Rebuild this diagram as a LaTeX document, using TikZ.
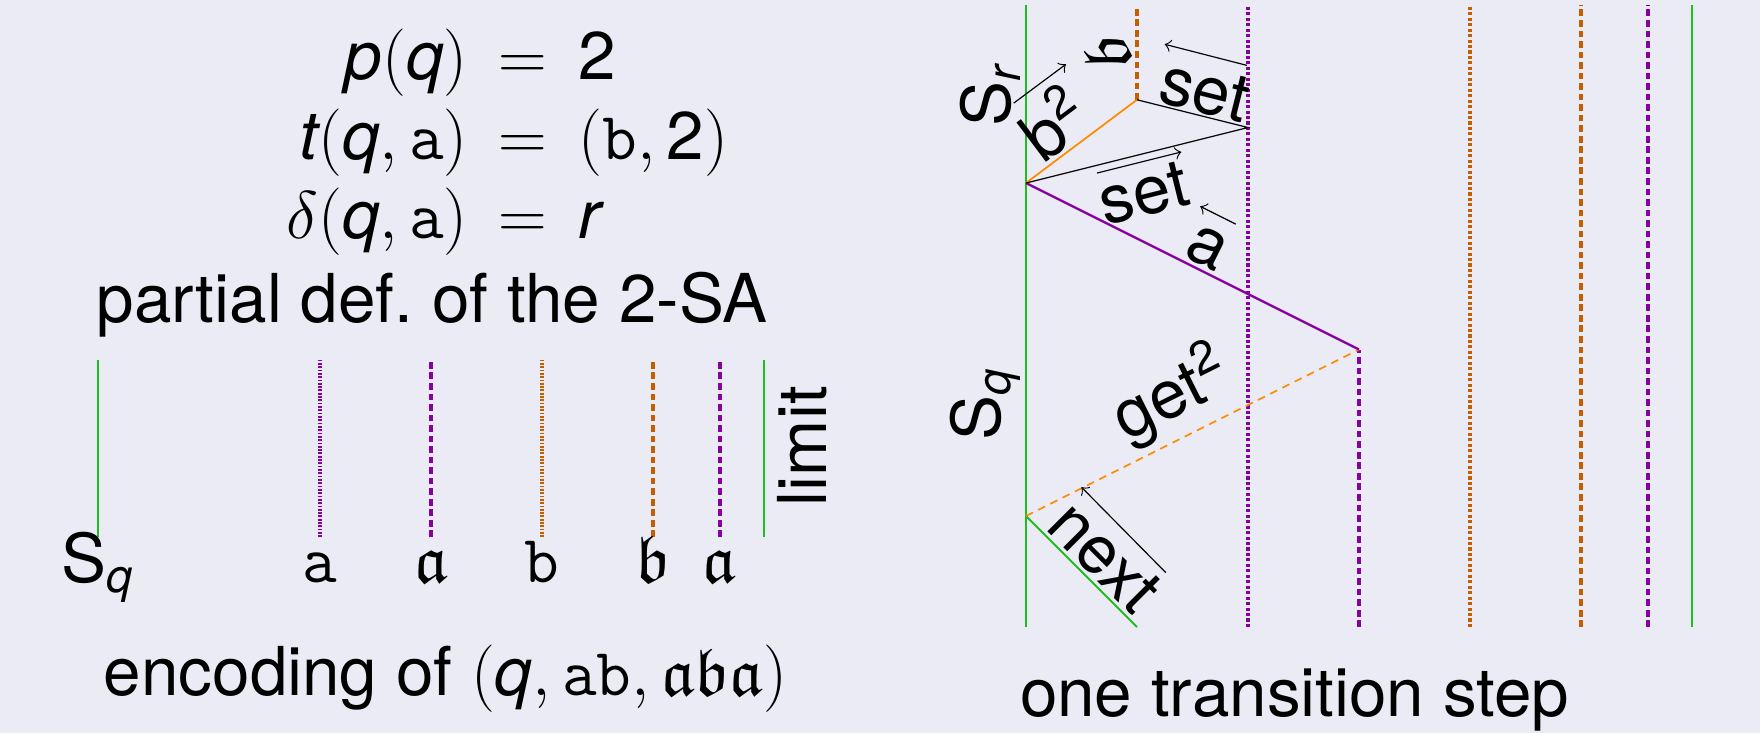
\documentclass[tikz,border=0pt]{standalone}
\usepackage{amsmath,amssymb}
\usepackage{fontspec}
\setmainfont{TeX Gyre Heros}
\usepackage{tikz}
\definecolor{bg}{RGB}{235,235,246}
\definecolor{sgreen}{RGB}{30,190,30}
\definecolor{spurple}{RGB}{135,0,160}
\definecolor{sbrown}{RGB}{195,95,0}
\definecolor{sorange}{RGB}{255,140,0}
\newcommand{\mv}[1]{\textit{#1}}
\newcommand{\fa}{\mathfrak{a}}
\newcommand{\fb}{\mathfrak{b}}

\begin{document}
\begin{tikzpicture}[font=\fontsize{17.28}{20.7}\selectfont,
    gline/.style={sgreen, line width=.45pt},
    dotpat/.style={dash pattern=on .8pt off .6pt},
    aline/.style={spurple, line width=.95pt, dotpat},
    Aline/.style={spurple, line width=1pt, dash pattern=on 1.7pt off 1pt},
    bline/.style={sbrown, line width=.95pt, dotpat},
    Bline/.style={sbrown, line width=1pt, dash pattern=on 1.7pt off 1pt},
    wline/.style={black, line width=.3pt},
    msg/.style={->, black, line width=.3pt},
    eqn/.style={anchor=base, inner sep=0pt}]
  \path[fill=bg, use as bounding box] (-9.243,-0.955) rectangle (6.613,5.649);

  \node[eqn] (r1) at (-4.53,4.93) {\llap{$\mv{p}(\mv{q})$\hspace{8pt}}$=$\rlap{\hspace{8pt}2}};
  \node[eqn] (r2) at (-4.53,4.21) {\llap{$\mv{t}(\mv{q},\texttt{a})$\hspace{8pt}}$=$\rlap{\hspace{8pt}$(\texttt{b},\text{2})$}};
  \node[eqn] (r3) at (-4.53,3.50) {\llap{$\delta(\mv{q},\texttt{a})$\hspace{8pt}}$=$\rlap{\hspace{8pt}$\mv{r}$}};
  \node[anchor=base] (pdef) at (-5.35,2.74) {partial def.\ of the 2-SA};

  \begin{scope}[xshift=-8.36cm, yshift=.81cm, gline/.style={sgreen, line width=.3pt},
      dotpat/.style={dash pattern=on .45pt off .4pt}]
    \foreach \x/\s/\t [count=\i] in {0/gline/S$_{\mv{q}}$, 2/aline/$\texttt{a}$, 3/Aline/$\fa$,
        4/bline/$\texttt{b}$, 5/Bline/$\fb$, 5.6/Aline/$\fa$} {
      \draw[\s] (\x,0) -- (\x,1.6);
      \node[anchor=base] (cell\i) at (\x,-.41) {\t};
    }
    \draw[gline] (6,0) -- (6,1.6);
    \node[rotate=90] (lim) at (6.34,.82) {limit};
  \end{scope}
  \node[anchor=base] (enc) at (-5.23,-.62) {encoding of $(\mv{q},\texttt{ab},\fa\fb\fa)$};

  \coordinate (Sq) at (0,1);
  \coordinate (Sr) at (0,4);
  \coordinate (nx) at (1,0);
  \coordinate (gt) at (3,2.5);
  \coordinate (bw) at (1,4.75);
  \coordinate (st) at (2,4.5);
  \foreach \x/\s in {0/gline, 2/aline, 4/bline, 5/Bline, 5.6/Aline, 6/gline}
    \draw[\s] (\x,0) -- (\x,5.6);
  \draw[Aline] (3,0) -- (gt);
  \draw[Bline] (bw) -- (1,5.6);

  \draw[gline, line width=.5pt] (Sq) -- (nx);
  \draw[sorange, line width=.45pt, dash pattern=on 2pt off 1.5pt] (Sq) -- (gt);
  \draw[spurple, line width=.6pt] (gt) -- (Sr);
  \draw[sorange, line width=.45pt] (Sr) -- (bw);
  \draw[wline] (Sr) -- (st) -- (bw);

  \node[rotate=90] (sr) at (-.32,4.79) {S$_{\mv{r}}$};
  \node[rotate=90] (sq) at (-.365,2.01) {S$_{\mv{q}}$};
  \node[rotate=90] (fbl) at (.73,5.18) {$\fb$};
  \node[rotate=36.87] (b2) at (.24,4.55) {b$^{\text{2}}$};
  \node[rotate=-14.04] (set1) at (1.61,4.83) {set};
  \node[rotate=14.04] (set2) at (1.06,3.91) {set};
  \node[rotate=-26.57] (la) at (1.63,3.41) {a};
  \node[rotate=26.57] (get) at (1.31,2.09) {get$^{\text{2}}$};
  \node[rotate=-45] (nxt) at (.71,.63) {next};

  \coordinate (m1) at (-.11,4.72);  \coordinate (m1') at (.36,5.07);
  \coordinate (m2) at (1.99,5.06);  \coordinate (m2') at (1.25,5.25);
  \coordinate (m3) at (.64,4.09);   \coordinate (m3') at (1.40,4.28);
  \coordinate (m4) at (1.89,3.63);  \coordinate (m4') at (1.57,3.79);
  \coordinate (m5) at (1.26,.49);   \coordinate (m5') at (.50,1.26);
  \draw[msg] (m1) -- (m1');
  \draw[msg] (m2) -- (m2');
  \draw[msg] (m3) -- (m3');
  \draw[msg] (m4) -- (m4');
  \draw[msg] (m5) -- (m5');

  \node[anchor=base] (one) at (2.42,-.81) {one transition step};
\end{tikzpicture}
\end{document}
